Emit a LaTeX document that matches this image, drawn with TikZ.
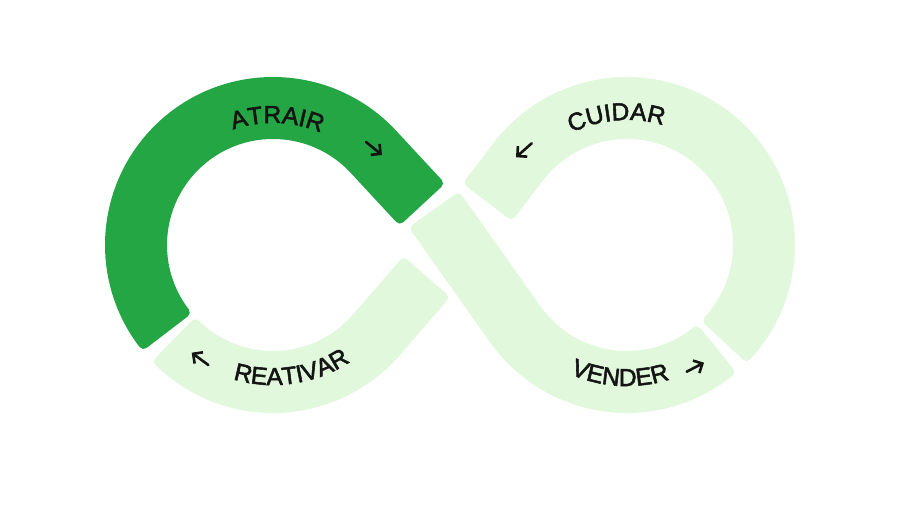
\documentclass[tikz,border=0pt]{standalone}
\usepackage{fontspec}
\newfontfamily\lblfamily[FakeBold=2.2]{Liberation Sans}
\usetikzlibrary{calc,decorations.text,arrows.meta}
\definecolor{darkgreen}{HTML}{24A645}
\definecolor{lightgreen}{HTML}{E1F8DC}
\definecolor{inkc}{HTML}{141414}
\newcommand\lblfont{\lblfamily\fontsize{24.5}{28}\selectfont}
\begin{document}
\begin{tikzpicture}[x=1pt,y=1pt,
  bandbody/.style={line width=62pt, line cap=butt, line join=miter},
  bandend/.style={line width=10pt, line cap=round},
  flowarrow/.style={draw=inkc, line width=2.6pt, line cap=round, line join=round, -{Straight Barb[length=7pt,width=14pt]}}
]
\useasboundingbox (0,0) rectangle (900,506);
% geometry: two loop circles and the crossing point
\coordinate (L) at (273,261);
\coordinate (R) at (627,261);
\coordinate (C) at (457,264);
\coordinate (T1) at ($(L)+(42.82:137)$);
\coordinate (T2) at ($(L)+(-40.96:137)$);
\coordinate (T3) at ($(R)+(215.3:137)$);
\coordinate (T4) at ($(R)+(142.67:137)$);
% ATRAIR (dark)
\draw[bandbody, darkgreen] ($(C)+(132.8:56)$) -- (T1) arc[start angle=42.82, end angle=217.4, radius=137];
\draw[bandend, darkgreen] ($(C)+(132.8:56)+(42.8:26)$) -- ($(C)+(132.8:56)+(222.8:26)$);
\draw[bandend, darkgreen] ($(L)+(217.4:111)$) -- ($(L)+(217.4:163)$);
% REATIVAR
\draw[bandbody, lightgreen] ($(L)+(225.6:137)$) arc[start angle=225.6, end angle=319.04, radius=137] -- ($(C)+(229.0:51)$);
\draw[bandend, lightgreen] ($(L)+(225.6:111)$) -- ($(L)+(225.6:163)$);
\draw[bandend, lightgreen] ($(C)+(229.0:51)+(139.0:26)$) -- ($(C)+(229.0:51)+(319.0:26)$);
% VENDER
\draw[bandbody, lightgreen] ($(C)+(125.3:35)$) -- (C) -- (T3) arc[start angle=215.3, end angle=308.9, radius=137];
\draw[bandend, lightgreen] ($(C)+(125.3:35)+(35.3:26)$) -- ($(C)+(125.3:35)+(215.3:26)$);
\draw[bandend, lightgreen] ($(R)+(308.9:111)$) -- ($(R)+(308.9:163)$);
% CUIDAR
\draw[bandbody, lightgreen] ($(R)+(317.1:137)$) arc[start angle=317.1, end angle=502.67, radius=137] -- ($(C)+(52.67:55)$);
\draw[bandend, lightgreen] ($(R)+(317.1:111)$) -- ($(R)+(317.1:163)$);
\draw[bandend, lightgreen] ($(C)+(52.67:55)+(142.67:26)$) -- ($(C)+(52.67:55)+(322.67:26)$);
% labels along the band
\path[decorate, decoration={text along path, text align=center, text color=inkc, text={|\lblfont|ATRAIR}}]
  ($(L)+(133:122)$) arc[start angle=133, end angle=43, radius=122];
\path[decorate, decoration={text along path, text align=center, text color=inkc, text={|\lblfont|CUIDAR}}]
  ($(R)+(139.7:125)$) arc[start angle=139.7, end angle=49.7, radius=125];
\path[decorate, decoration={text along path, text align=center, text color=inkc, text={|\lblfont|REATIVAR}}]
  ($(L)+(228.5:140)$) arc[start angle=228.5, end angle=328.5, radius=140];
\path[decorate, decoration={text along path, text align=center, text color=inkc, text={|\lblfont|VENDER}}]
  ($(R)+(217:141)$) arc[start angle=217, end angle=317, radius=141];
% direction arrows
\coordinate (aA1) at (366,364); \coordinate (aA2) at (382,351);
\coordinate (aC1) at (531.7,362.7); \coordinate (aC2) at (516,348.7);
\coordinate (aR1) at (208.3,141);   \coordinate (aR2) at (191.7,153.3);
\coordinate (aV1) at (686.7,134.3); \coordinate (aV2) at (704,143.3);
\draw[flowarrow] (aA1) -- (aA2);
\draw[flowarrow] (aC1) -- (aC2);
\draw[flowarrow] (aR1) -- (aR2);
\draw[flowarrow] (aV1) -- (aV2);
\end{tikzpicture}
\end{document}
